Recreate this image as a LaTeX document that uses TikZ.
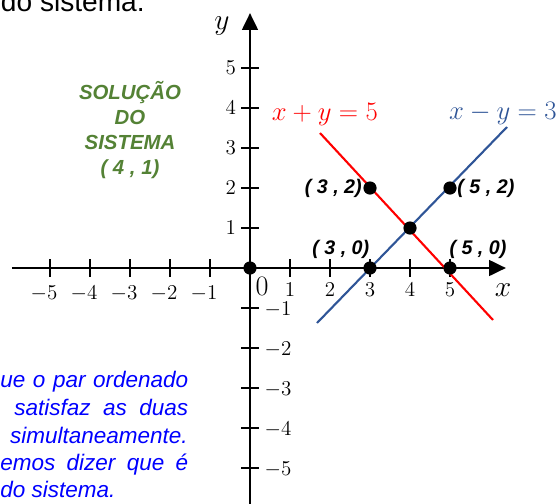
\RequirePackage{fix-cm}
\documentclass[tikz,border=0pt]{standalone}
\usepackage{fontspec}
\newfontfamily\arialf{Liberation Sans}
\usetikzlibrary{arrows.meta}
\definecolor{eqblue}{RGB}{47,85,151}
\definecolor{solgreen}{RGB}{84,130,53}
\definecolor{txtblue}{RGB}{0,0,255}
\begin{document}
\begin{tikzpicture}[x=1cm,y=1cm,
  axisline/.style={line width=2.1pt,-{Triangle[length=12pt,width=11pt]}},
  tickline/.style={line width=1.8pt},
  ticklbl/.style={font=\fontsize{15}{17}\selectfont, inner sep=0pt},
  axlbl/.style={font=\fontsize{21}{24}\selectfont, inner sep=0pt},
  eqlbl/.style={font=\fontsize{19}{22}\selectfont, inner sep=0pt},
  dotnode/.style={circle, fill=black, inner sep=0pt, minimum size=0.33cm},
  ptlbl/.style={font=\arialf\bfseries\itshape\fontsize{14}{16}\selectfont, inner sep=0pt},
  soltext/.style={font=\arialf\bfseries\itshape\fontsize{14.5}{18}\selectfont, text=solgreen, align=center, inner sep=0pt},
  bluetext/.style={font=\arialf\itshape\fontsize{16}{19}\selectfont, text=txtblue, inner sep=0pt},
  toptext/.style={font=\arialf\fontsize{20}{24}\selectfont, text=black, inner sep=0pt},
  redline/.style={red, line width=1.5pt},
  blueline/.style={eqblue, line width=1.5pt}]
\useasboundingbox (-6.25,-5.875) rectangle (7.725,6.7);
\clip (-6.25,-5.875) rectangle (7.725,6.7);

% top cut-off text
\node[toptext, anchor=base east] (top) at (-2.625,6.425) {do sistema.};

% axes
\coordinate (xl) at (-5.95,0);
\coordinate (xr) at (6.4,0);
\coordinate (yb) at (0,-6.2);
\coordinate (yt) at (0,6.375);
\draw[axisline] (xl) -- (xr);
\draw[axisline] (yb) -- (yt);

% ticks
\foreach \i in {-5,-4,-3,-2,-1,1,2,3,4,5} {
  \draw[tickline] (\i,-0.22) -- (\i,0.22);
  \draw[tickline] (-0.22,\i) -- (0.22,\i);
}
% tick labels
\foreach \i in {1,2,3,4,5} {
  \node[ticklbl] (xn\i) at (-\i-0.15,-0.64) {$-\i$};
  \node[ticklbl] (xp\i) at (\i,-0.55) {$\i$};
  \node[ticklbl] (yp\i) at (-0.48,\i) {$\i$};
  \node[ticklbl] (yn\i) at (0.7,-\i-0.03) {$-\i$};
}
\node[font=\fontsize{20}{22}\selectfont, inner sep=0pt] (zero) at (0.3,-0.46) {$0$};

% axis labels
\node[axlbl] (xlab) at (6.33,-0.55) {$x$};
\node[axlbl] (ylab) at (-0.7,6.05) {$y$};

% lines
\coordinate (r1) at (1.75,3.375);
\coordinate (r2) at (6.075,-1.3);
\coordinate (b1) at (1.675,-1.375);
\coordinate (b2) at (6.425,3.525);
\draw[redline] (r1) -- (r2);
\draw[blueline] (b1) -- (b2);

% equations
\node[eqlbl, text=red] (eqr) at (1.87,3.83) {$x+y=5$};
\node[eqlbl, text=eqblue] (eqb) at (6.32,3.87) {$x-y=3$};

% points
\node[dotnode] (p00) at (0,0) {};
\node[dotnode] (p30) at (3,0) {};
\node[dotnode] (p50) at (5,0) {};
\node[dotnode] (p41) at (4,1) {};
\node[dotnode] (p32) at (3,2) {};
\node[dotnode] (p52) at (5,2) {};

\node[ptlbl, anchor=east] (l32) at (2.8,2) {( 3 , 2)};
\node[ptlbl, anchor=west] (l52) at (5.18,2) {( 5 , 2)};
\node[ptlbl] (l30) at (2.27,0.47) {( 3 , 0)};
\node[ptlbl] (l50) at (5.7,0.47) {( 5 , 0)};

% green solution text
\node[soltext] (sol) at (-3.0,3.45) {SOLUÇÃO\\DO\\SISTEMA\\( 4 , 1)};

% blue explanatory text
\node[bluetext, anchor=base west] (bt1) at (-6.25,-2.975) {\makebox[4.7cm][s]{ue o par ordenado}};
\node[bluetext, anchor=base west] (bt2) at (-5.9,-3.675) {\makebox[4.35cm][s]{satisfaz as duas}};
\node[bluetext, anchor=base east] (bt3) at (-1.55,-4.375) {simultaneamente.};
\node[bluetext, anchor=base west] (bt4) at (-6.25,-5.05) {\makebox[4.7cm][s]{emos dizer que é}};
\node[bluetext, anchor=base west] (bt5) at (-6.25,-5.725) {do sistema.};
\end{tikzpicture}
\end{document}
